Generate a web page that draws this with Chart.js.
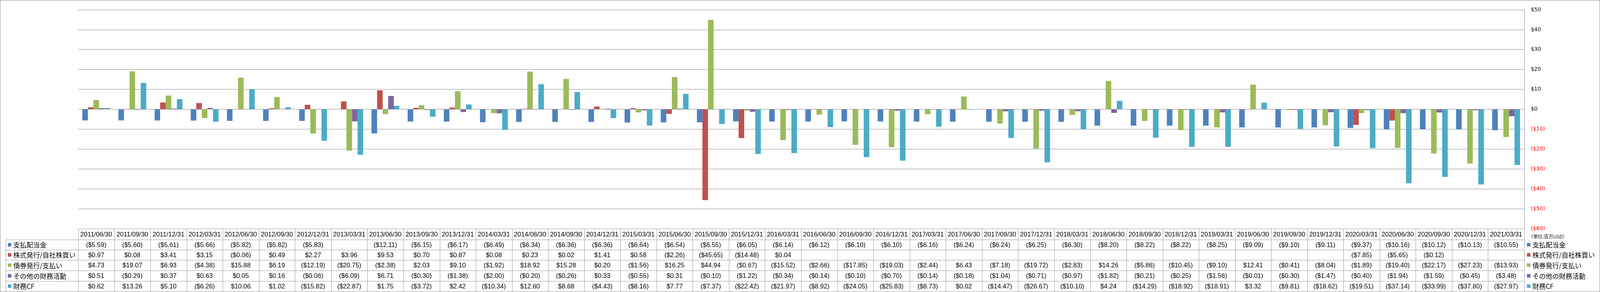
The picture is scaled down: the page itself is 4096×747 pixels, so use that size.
<!DOCTYPE html>
<html>
<head>
<meta charset="utf-8">
<script src="https://cdn.jsdelivr.net/npm/chart.js@4/dist/chart.umd.min.js"></script>
<style>
  html, body { margin: 0; padding: 0; background: #fff; }
  #wrap { width: 4096px; height: 747px; }
</style>
</head>
<body>
<div id="wrap"><canvas id="chart" width="4096" height="747"></canvas></div>
<script>
const dates = ['2011/06/30', '2011/09/30', '2011/12/31', '2012/03/31', '2012/06/30', '2012/09/30', '2012/12/31', '2013/03/31',
    '2013/06/30', '2013/09/30', '2013/12/31', '2014/03/31', '2014/06/30', '2014/09/30', '2014/12/31', '2015/03/31',
    '2015/06/30', '2015/09/30', '2015/12/31', '2016/03/31', '2016/06/30', '2016/09/30', '2016/12/31', '2017/03/31',
    '2017/06/30', '2017/09/30', '2017/12/31', '2018/03/31', '2018/06/30', '2018/09/30', '2018/12/31', '2019/03/31',
    '2019/06/30', '2019/09/30', '2019/12/31', '2020/03/31', '2020/06/30', '2020/09/30', '2020/12/31', '2021/03/31'];

const seriesNames = ['支払配当金', '株式発行/自社株買い', '債券発行/支払い', 'その他の財務活動', '財務CF'];
const seriesColors = ['#4F81BD', '#C0504D', '#9BBB59', '#8064A2', '#4BACC6'];

const dividends = [-5.59, -5.60, -5.61, -5.66, -5.82, -5.82, -5.83, null, -12.11, -6.15,
    -6.17, -6.49, -6.34, -6.36, -6.36, -6.64, -6.54, -6.55, -6.05, -6.14,
    -6.12, -6.10, -6.10, -6.16, -6.24, -6.24, -6.25, -6.30, -8.20, -8.22,
    -8.22, -8.25, -9.09, -9.10, -9.11, -9.37, -10.16, -10.12, -10.13, -10.55];
const stockIssue = [0.97, 0.08, 3.41, 3.15, -0.06, 0.49, 2.27, 3.96, 9.53, 0.70,
    0.87, 0.08, 0.23, 0.02, 1.41, 0.58, -2.26, -45.65, -14.48, 0.04,
    null, null, null, null, null, null, null, null, null, null,
    null, null, null, null, null, -7.85, -5.65, -0.12, null, null];
const bondIssue = [4.73, 19.07, 6.93, -4.38, 15.88, 6.19, -12.19, -20.75, -2.38, 2.03,
    9.10, -1.92, 18.92, 15.28, 0.20, -1.56, 16.25, 44.94, -0.67, -15.52,
    -2.66, -17.85, -19.03, -2.44, 6.43, -7.18, -19.72, -2.83, 14.26, -5.86,
    -10.45, -9.10, 12.41, -0.41, -8.04, -1.89, -19.40, -22.17, -27.23, -13.93];
const otherFin = [0.51, -0.29, 0.37, 0.63, 0.05, 0.16, -0.06, -6.09, 6.71, -0.30,
    -1.38, -2.00, -0.20, -0.26, 0.33, -0.55, 0.31, -0.10, -1.22, -0.34,
    -0.14, -0.10, -0.70, -0.14, -0.18, -1.04, -0.71, -0.97, -1.82, -0.21,
    -0.25, -1.56, -0.01, -0.30, -1.47, -0.40, -1.94, -1.59, -0.45, -3.48];
const financingCF = [0.62, 13.26, 5.10, -6.26, 10.06, 1.02, -15.82, -22.87, 1.75, -3.72,
    2.42, -10.34, 12.60, 8.68, -4.43, -8.16, 7.77, -7.37, -22.42, -21.97,
    -8.92, -24.05, -25.83, -8.73, 0.02, -14.47, -26.67, -10.10, 4.24, -14.29,
    -18.92, -18.91, 3.32, -9.81, -18.62, -19.51, -37.14, -33.99, -37.80, -27.97];

const allSeries = [dividends, stockIssue, bondIssue, otherFin, financingCF];
const unitLabel = '（単位:百万USD）';

const W = 4096, H = 747;
const tableTop = 585;
const headerBottom = 613;
const rowLines = [613, 639, 665, 692, 719, 745];
const labelColLeft = 14.5;
const gridColor = '#8a8a8a';

function money(v) {
    if (v === null || v === undefined) return '';
    return v < 0 ? '($' + Math.abs(v).toFixed(2) + ')' : '$' + v.toFixed(2);
}

// data table under the plot + legend on the right
const tablePlugin = {
    id: 'dataTable',
    afterDraw(chart) {
        const ctx = chart.ctx;
        const area = chart.chartArea;
        const xs = chart.scales.x;
        const colW = area.width / dates.length;
        const left = area.left, right = area.right;

        ctx.save();
        ctx.strokeStyle = '#9a9a9a';
        ctx.lineWidth = 1;

        // horizontal lines
        ctx.beginPath();
        ctx.moveTo(left, tableTop + 0.5);
        ctx.lineTo(right, tableTop + 0.5);
        for (let r = 0; r < rowLines.length - 1; r++) {
            ctx.moveTo(labelColLeft, Math.round(rowLines[r]) + 0.5);
            ctx.lineTo(right, Math.round(rowLines[r]) + 0.5);
        }
        // vertical lines
        ctx.moveTo(labelColLeft + 0.5, headerBottom);
        ctx.lineTo(labelColLeft + 0.5, H);
        for (let i = 0; i <= dates.length; i++) {
            const x = Math.round(left + i * colW) + 0.5;
            ctx.moveTo(x, tableTop);
            ctx.lineTo(x, H);
        }
        ctx.stroke();

        ctx.fillStyle = '#000';
        ctx.textAlign = 'center';
        ctx.textBaseline = 'middle';
        ctx.font = '16.5px "Liberation Sans", "Noto Sans CJK JP", sans-serif';
        dates.forEach((d, i) => {
            ctx.fillText(d, xs.getPixelForValue(i), (tableTop + headerBottom) / 2 + 1);
        });
        allSeries.forEach((vals, s) => {
            const cy = (rowLines[s] + rowLines[s + 1]) / 2 + 1;
            vals.forEach((v, i) => {
                ctx.fillText(money(v), xs.getPixelForValue(i), cy);
            });
        });

        // row labels (left) and legend (right)
        ctx.textAlign = 'left';
        ctx.font = '17px "Noto Sans CJK JP", "Liberation Sans", sans-serif';
        seriesNames.forEach((name, s) => {
            const cy = (rowLines[s] + rowLines[s + 1]) / 2;
            ctx.fillStyle = seriesColors[s];
            ctx.fillRect(20, cy - 4.5, 9, 9);
            ctx.fillRect(3909, cy - 4.5, 9, 9);
            ctx.fillStyle = '#000';
            ctx.fillText(name, 34, cy + 1);
            ctx.fillText(name, 3923, cy + 1);
        });

        ctx.font = '12px "Noto Sans CJK JP", "Liberation Sans", sans-serif';
        ctx.fillText(unitLabel, 3913, 605);

        // outer frame
        ctx.strokeStyle = '#868686';
        ctx.strokeRect(0.5, 0.5, W - 1, H - 1);
        ctx.restore();
    }
};

const chartCtx = document.getElementById('chart').getContext('2d');
const finChart = new Chart(chartCtx, {
    type: 'bar',
    data: {
        labels: dates,
        datasets: allSeries.map((vals, s) => ({
            label: seriesNames[s],
            data: vals,
            backgroundColor: seriesColors[s],
            borderWidth: 0,
            categoryPercentage: 5 / 6.5,
            barPercentage: 1
        }))
    },
    options: {
        responsive: false,
        animation: false,
        devicePixelRatio: 1,
        layout: { padding: { left: 200, top: 11, right: 0, bottom: H - tableTop } },
        plugins: { legend: { display: false }, tooltip: { enabled: false } },
        scales: {
            x: { display: false },
            y: {
                position: 'right',
                min: -60,
                max: 50,
                afterFit: scale => { scale.width = W - 3902; },
                ticks: {
                    stepSize: 10,
                    padding: 17,
                    font: { family: '"DejaVu Sans"', size: 13.5 },
                    color: c => c.tick.value < 0 ? '#FF0000' : '#000000',
                    callback: v => v < 0 ? '($' + Math.abs(v) + ')' : '$' + v
                },
                grid: { color: gridColor, drawTicks: false },
                border: { display: true, color: gridColor }
            }
        }
    },
    plugins: [tablePlugin]
});
</script>
</body>
</html>
